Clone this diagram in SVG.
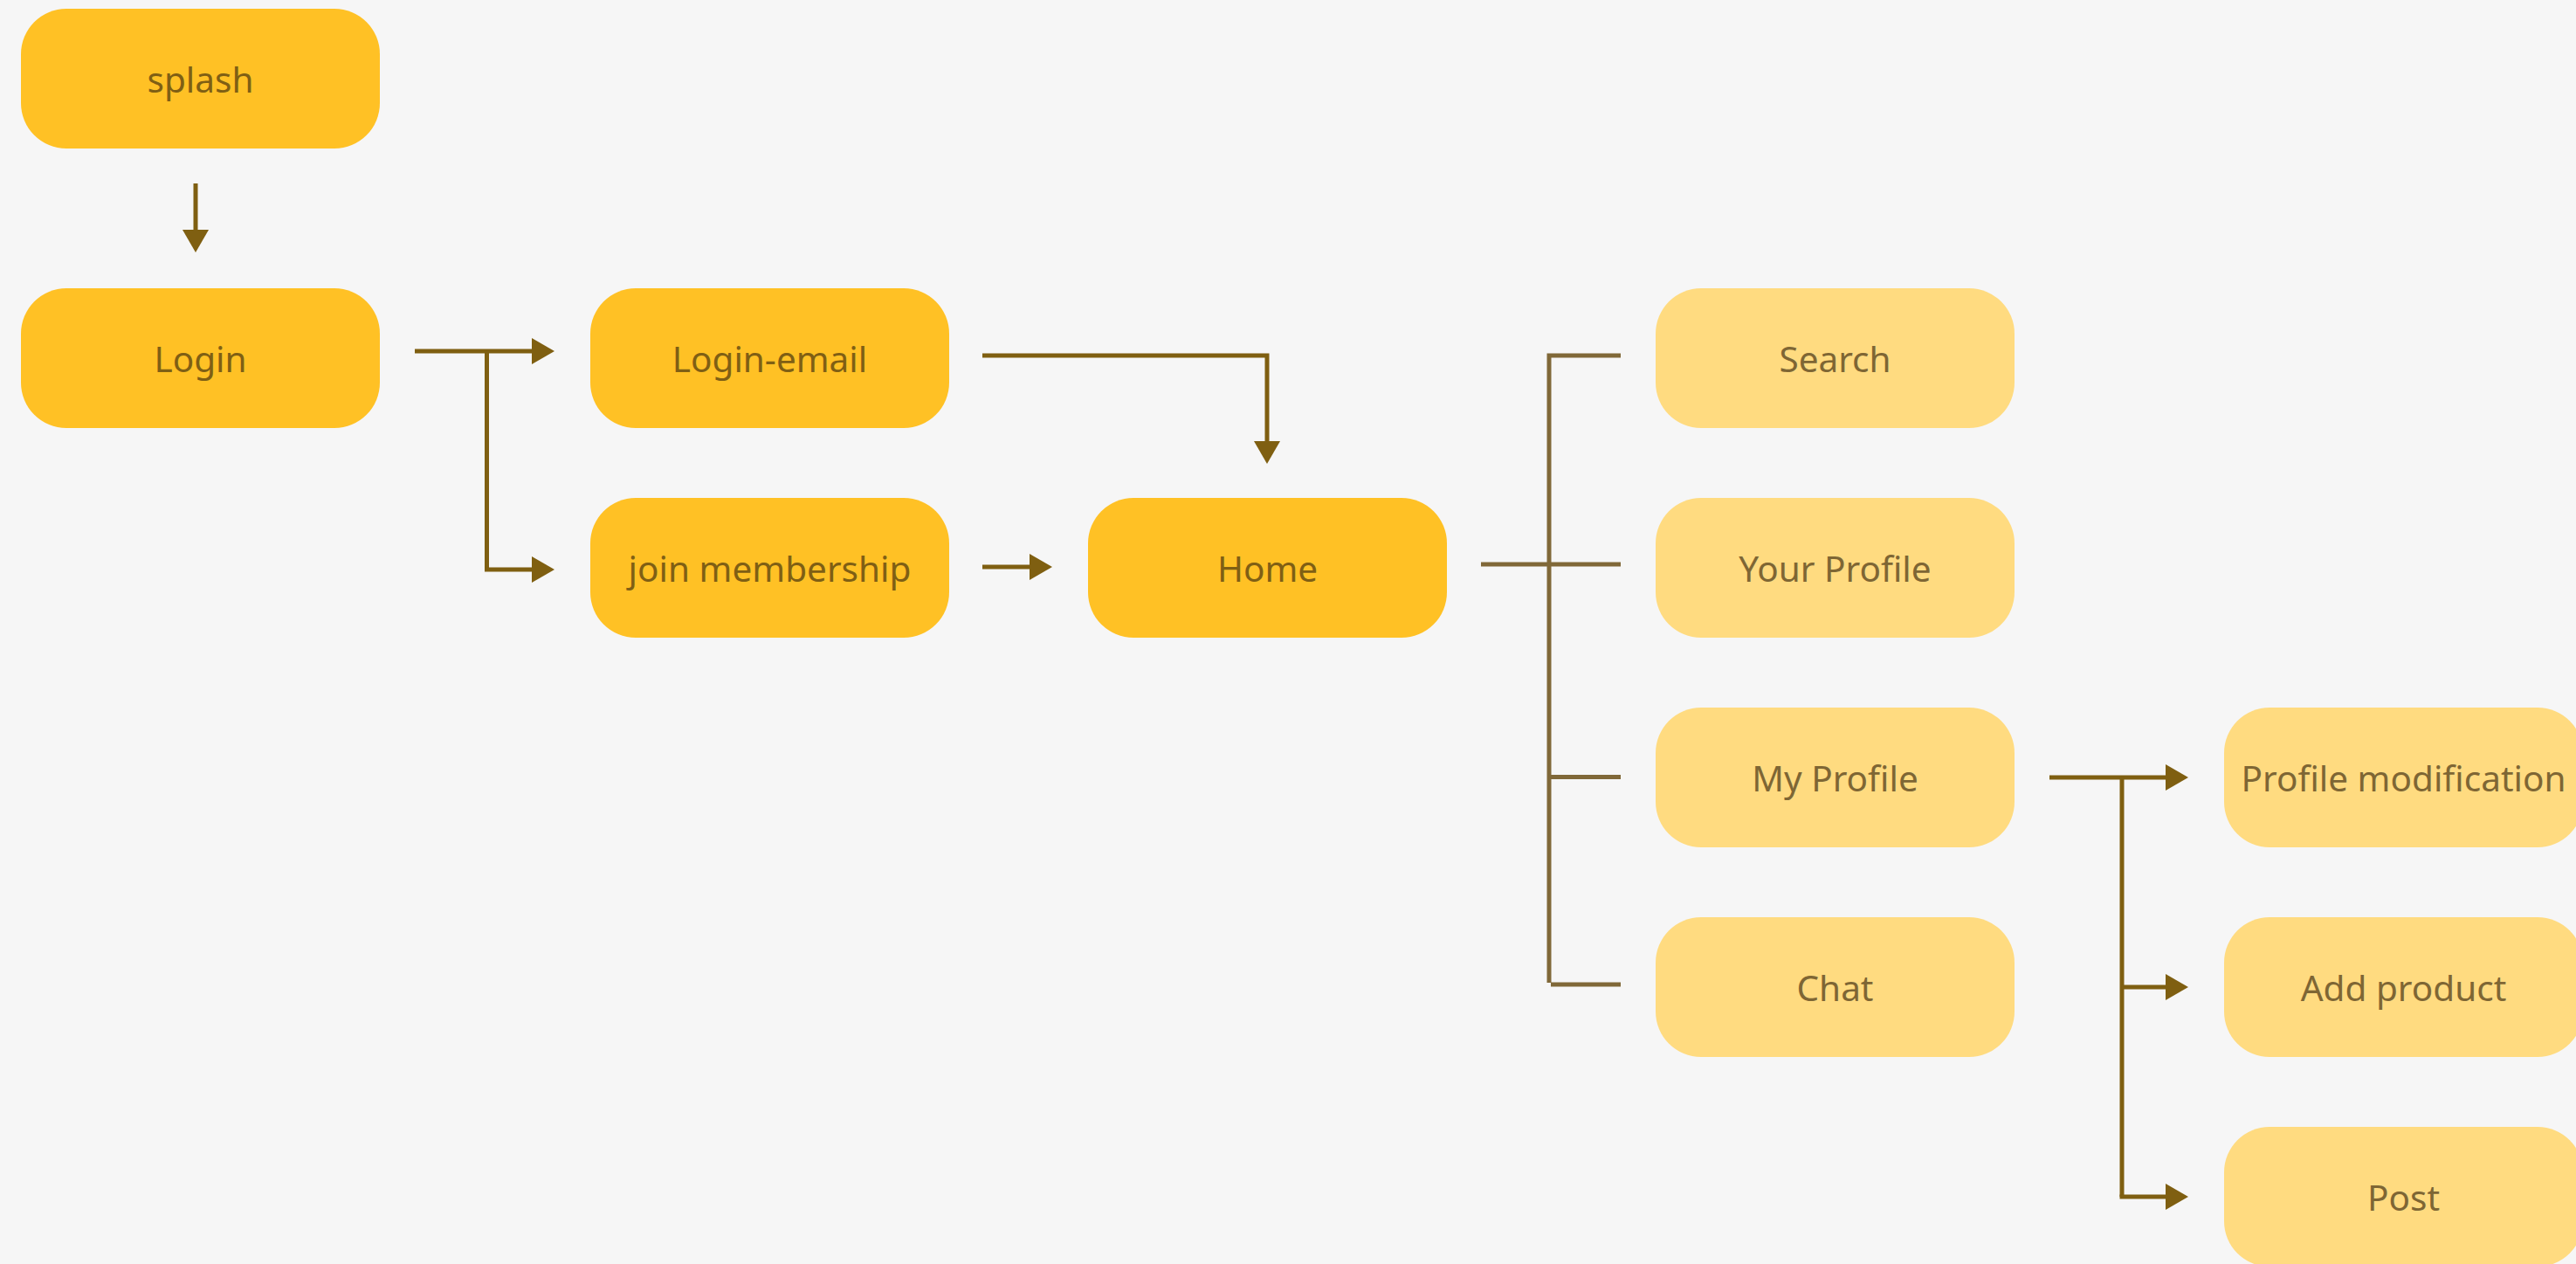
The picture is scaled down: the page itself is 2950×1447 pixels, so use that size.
<svg xmlns="http://www.w3.org/2000/svg" width="2950" height="1447" viewBox="0 0 2950 1447">
<style>
.dark rect{fill:#FFC125}
.light rect{fill:#FFDB80}
text{font-family:"Noto Sans","Open Sans","DejaVu Sans",sans-serif;font-size:40.5px;text-anchor:middle}
.dark text{fill:#7F5F14}
.light text{fill:#7E6634}
.arr{fill:none;stroke:#7F5F11;stroke-width:5;marker-end:url(#ah)}
.ln{fill:none;stroke:#7F5F11;stroke-width:5}
.tree{fill:none;stroke:#806838;stroke-width:5}
</style>
<defs>
<marker id="ah" markerUnits="userSpaceOnUse" markerWidth="26" markerHeight="30" refX="0" refY="15" orient="auto" viewBox="0 0 26 30" overflow="visible">
<path d="M0,0 L26,15 L0,30 Z" fill="#7F5F11"/>
</marker>
</defs>
<rect width="2950" height="1447" fill="#F6F6F6"/>
<g id="connectors">
<path class="arr" d="M224,210 V263"/>
<path class="arr" d="M475,402 H609"/>
<path class="ln" d="M557.5,402 V652"/>
<path class="arr" d="M555,652 H609"/>
<path class="arr" d="M1125,407 H1451 V505"/>
<path class="arr" d="M1125,649 H1179"/>
<path class="tree" d="M1696,646 H1856"/>
<path class="tree" d="M1856,407 H1774 V1125"/>
<path class="tree" d="M1774,889.5 H1856"/>
<path class="tree" d="M1776,1127 H1856"/>
<path class="arr" d="M2347,890 H2480"/>
<path class="ln" d="M2430,890 V1370"/>
<path class="arr" d="M2430,1130 H2480"/>
<path class="arr" d="M2427.5,1370 H2480"/>
</g>
<g id="splash" class="dark"><rect x="24" y="10" width="411" height="160" rx="52"/><text x="229.5" y="106">splash</text></g>
<g id="login" class="dark"><rect x="24" y="330" width="411" height="160" rx="52"/><text x="229.5" y="426">Login</text></g>
<g id="login-email" class="dark"><rect x="676" y="330" width="411" height="160" rx="52"/><text x="881.5" y="426">Login-email</text></g>
<g id="join-membership" class="dark"><rect x="676" y="570" width="411" height="160" rx="52"/><text x="881.5" y="666">join membership</text></g>
<g id="home" class="dark"><rect x="1246" y="570" width="411" height="160" rx="52"/><text x="1451.5" y="666">Home</text></g>
<g id="search" class="light"><rect x="1896" y="330" width="411" height="160" rx="52"/><text x="2101.5" y="426">Search</text></g>
<g id="your-profile" class="light"><rect x="1896" y="570" width="411" height="160" rx="52"/><text x="2101.5" y="666">Your Profile</text></g>
<g id="my-profile" class="light"><rect x="1896" y="810" width="411" height="160" rx="52"/><text x="2101.5" y="906">My Profile</text></g>
<g id="chat" class="light"><rect x="1896" y="1050" width="411" height="160" rx="52"/><text x="2101.5" y="1146">Chat</text></g>
<g id="profile-modification" class="light"><rect x="2547" y="810" width="411" height="160" rx="52"/><text x="2752.5" y="906">Profile modification</text></g>
<g id="add-product" class="light"><rect x="2547" y="1050" width="411" height="160" rx="52"/><text x="2752.5" y="1146">Add product</text></g>
<g id="post" class="light"><rect x="2547" y="1290" width="411" height="160" rx="52"/><text x="2752.5" y="1386">Post</text></g>
</svg>
